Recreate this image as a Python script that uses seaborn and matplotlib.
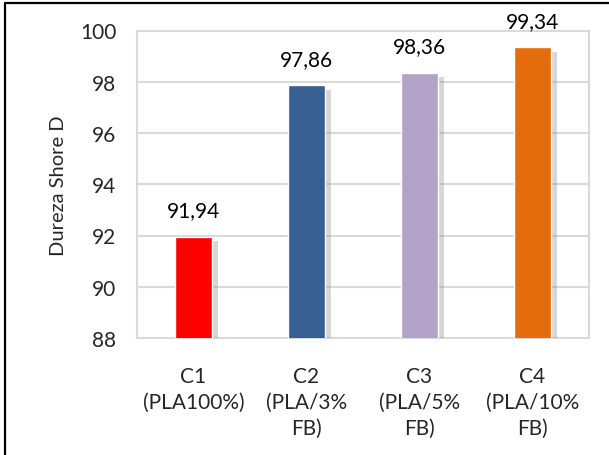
import matplotlib
matplotlib.use("Agg")
import matplotlib.pyplot as plt
import matplotlib.patheffects as pe
from matplotlib.lines import Line2D
import seaborn as sns
import pandas as pd

# Shore D hardness per composition
categories = ["C1\n(PLA100%)", "C2\n(PLA/3%\nFB)", "C3\n(PLA/5%\nFB)", "C4\n(PLA/10%\nFB)"]
hardness = [91.94, 97.86, 98.36, 99.34]
bar_colors = ["#FF0000", "#375F92", "#B3A2C7", "#E46C0A"]
y_ticks = [88, 90, 92, 94, 96, 98, 100]

sns.set_style("white")
plt.rcParams["font.family"] = ["Lato", "DejaVu Sans"]

df = pd.DataFrame({"Composição": categories, "Dureza": hardness})

fig = plt.figure(figsize=(6.09, 4.56), dpi=100)
ax = fig.add_axes([137 / 609, 1 - 339 / 456, (589 - 137) / 609, (339 - 31.5) / 456])

sns.barplot(data=df, x="Composição", y="Dureza", hue="Composição",
            palette=bar_colors, legend=False, width=0.32, ax=ax,
            saturation=1, zorder=3)

# soft drop shadow on the right of each bar
for bar in ax.patches:
    bar.set_path_effects([pe.SimplePatchShadow(offset=(4.5, -3), shadow_rgbFace="#8c8c8c", alpha=0.35),
                          pe.Normal()])

labels = [f"{v:.2f}".replace(".", ",") for v in hardness]
for i, cont in enumerate(ax.containers):
    ax.bar_label(cont, labels=[labels[i]], padding=12, fontsize=15, color="#000000")

ax.set_ylim(88, 100)
ax.set_yticks(y_ticks)
ax.set_yticklabels([str(t) for t in y_ticks], fontsize=15)
ax.set_xticks(range(len(categories)))
ax.set_xticklabels(categories, fontsize=15, linespacing=1.38)
ax.set_xlabel("")
ax.set_ylabel("Dureza Shore D", fontsize=14.5, labelpad=9)
ax.tick_params(axis="both", length=0)
ax.tick_params(axis="y", pad=15)
ax.tick_params(axis="x", pad=20)

ax.yaxis.grid(True, color="#D9D9D9", linewidth=1.5, zorder=0)
ax.set_axisbelow(True)
for s in ax.spines.values():
    s.set_visible(True)
    s.set_color("#D9D9D9")
    s.set_linewidth(1.5)

# outer frame (left and top edges)
W, H = 609, 456
fig.add_artist(Line2D([4.5 / W, 4.5 / W], [0, 1 - 4 / H], color="black", lw=1.6))
fig.add_artist(Line2D([4.5 / W, 1], [1 - 4 / H, 1 - 4 / H], color="black", lw=1.6))

fig.savefig("out.png", dpi=100)
